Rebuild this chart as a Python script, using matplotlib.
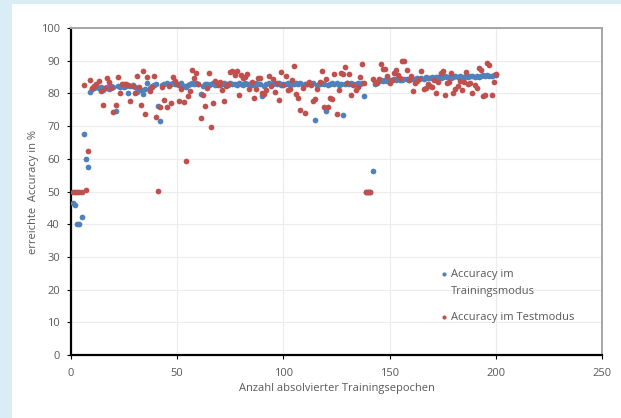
import matplotlib
matplotlib.use('Agg')

import matplotlib.pyplot as plt
from matplotlib.patches import Rectangle
import numpy as np

# accuracy per training epoch
epochs = np.arange(1, 201)

train_acc = [
    46.5, 46.0, 40.0, 40.2, 42.3, 67.6, 59.8, 57.4, 80.5, 81.2,
    81.6, 82.0, 81.5, 81.9, 81.0, 81.8, 82.1, 81.4, 82.3, 81.9,
    74.6, 82.2, 82.0, 82.4, 82.1, 82.3, 80.1, 82.2, 82.5, 82.0,
    80.3, 81.8, 80.9, 79.7, 81.2, 83.1, 81.6, 82.4, 82.6, 82.8,
    76.1, 71.5, 82.5, 83.0, 83.2, 82.7, 82.9, 83.1, 82.8, 83.0,
    82.6, 83.1, 82.4, 81.9, 82.5, 83.0, 83.2, 82.9, 83.1, 82.8,
    79.8, 82.4, 82.9, 83.0, 82.6, 82.9, 83.1, 82.7, 83.0, 82.5,
    82.8, 83.2, 82.9, 82.6, 83.1, 82.8, 83.0, 82.7, 83.2, 82.9,
    82.6, 83.1, 82.8, 83.0, 82.5, 82.9, 83.2, 82.8, 83.0, 79.2,
    82.4, 82.9, 83.1, 82.7, 83.0, 83.3, 82.9, 83.1, 82.6, 83.0,
    82.8, 83.2, 82.7, 83.0, 82.9, 83.3, 82.8, 83.1, 82.6, 83.0,
    82.8, 83.2, 82.9, 83.1, 71.8, 82.7, 83.0, 83.2, 82.8, 74.5,
    82.6, 83.0, 83.2, 82.9, 83.1, 82.7, 83.0, 73.4, 82.8, 83.1,
    82.9, 83.2, 82.8, 83.0, 83.1, 82.9, 83.2, 79.3, 50.0, 50.0,
    50.0, 56.3, 82.8, 83.4, 83.8, 84.0, 83.7, 84.1, 83.9, 84.2,
    84.0, 84.3, 84.1, 84.4, 84.2, 84.0, 84.3, 84.5, 84.2, 84.6,
    84.3, 84.5, 84.8, 84.4, 84.7, 84.5, 84.9, 84.6, 84.8, 85.0,
    84.7, 84.9, 85.1, 84.8, 85.0, 85.2, 84.9, 85.1, 84.8, 85.0,
    85.3, 85.0, 85.2, 84.9, 85.1, 85.3, 85.0, 85.2, 85.4, 85.1,
    85.3, 85.0, 85.2, 85.5, 85.3, 85.6, 85.4, 85.2, 85.5, 85.6,
]

test_acc = [
    50.0, 50.0, 49.8, 50.0, 50.0, 82.6, 50.5, 62.4, 84.0, 81.8,
    82.4, 82.8, 83.8, 80.6, 76.4, 81.6, 84.6, 83.4, 81.6, 74.4,
    76.3, 85.0, 80.0, 82.8, 83.0, 82.8, 82.5, 77.6, 82.3, 80.2,
    85.4, 82.0, 76.3, 86.8, 73.6, 85.0, 80.6, 82.0, 85.4, 72.9,
    50.2, 75.8, 81.9, 78.0, 75.9, 82.4, 77.2, 84.9, 83.8, 82.9,
    77.7, 81.3, 77.4, 59.2, 79.2, 80.6, 87.2, 84.7, 86.2, 83.0,
    72.4, 79.5, 76.0, 81.8, 86.2, 69.6, 77.1, 83.8, 82.5, 83.5,
    81.1, 77.7, 82.4, 83.0, 86.5, 86.7, 85.7, 86.9, 79.6, 85.6,
    84.8, 84.9, 85.8, 81.4, 83.4, 78.6, 81.2, 84.6, 84.6, 80.0,
    79.7, 80.9, 85.3, 82.2, 84.3, 80.3, 83.3, 78.0, 86.6, 82.5,
    85.4, 81.0, 81.4, 84.1, 88.4, 79.8, 78.7, 74.9, 81.8, 73.9,
    83.0, 83.4, 82.7, 77.7, 78.4, 81.2, 83.6, 86.8, 75.7, 84.5,
    75.7, 78.5, 78.2, 85.8, 73.7, 81.0, 86.3, 85.8, 88.2, 83.1,
    85.9, 79.5, 82.6, 81.0, 82.0, 85.1, 88.9, 83.1, 50.0, 50.0,
    50.0, 84.4, 83.6, 83.1, 84.5, 89.1, 87.6, 87.6, 85.4, 83.1,
    84.1, 86.3, 87.1, 85.7, 84.8, 90.0, 89.8, 87.1, 84.2, 85.4,
    80.6, 83.1, 83.8, 84.5, 86.8, 81.2, 81.8, 83.0, 82.3, 82.0,
    84.2, 80.2, 83.5, 86.3, 86.8, 79.4, 83.1, 83.6, 86.1, 80.0,
    81.2, 82.3, 83.8, 81.0, 83.5, 86.4, 82.9, 83.1, 80.0, 82.7,
    81.6, 87.9, 87.1, 79.2, 79.6, 89.4, 88.8, 79.5, 83.6, 85.8,
]

series_colors = ['#4f81bd', '#c0504d']
legend_lines = [['Accuracy im', 'Trainingsmodus'], ['Accuracy im Testmodus']]

plt.rcParams['font.family'] = ['Open Sans', 'DejaVu Sans']
text_col = '#595959'
fs = 8

fig = plt.figure(figsize=(6.21, 4.18), dpi=100)
fig.patch.set_facecolor('#d9edf7')
# white chart area, slide background shows on left and top
fig.patches.append(Rectangle((12 / 621, 0), 1, 1 - 4 / 418, transform=fig.transFigure,
                             facecolor='white', edgecolor='none', zorder=-10))

ax = fig.add_axes([71 / 621, 1 - 355 / 418, 531 / 621, 327 / 418])
ax.set_zorder(2)
ax.set_facecolor('white')

ax.scatter(epochs, train_acc, s=17, color=series_colors[0], zorder=3, linewidths=0)
ax.scatter(epochs, test_acc, s=17, color=series_colors[1], zorder=4, linewidths=0)

ax.set_xlim(0, 250)
ax.set_ylim(0, 100)
ax.set_xticks(np.arange(0, 251, 50))
ax.set_yticks(np.arange(0, 101, 10))
ax.grid(True, color='#ececec', linewidth=0.8, zorder=0)
ax.set_axisbelow(True)

for side in ['left', 'bottom']:
    ax.spines[side].set_color('black')
    ax.spines[side].set_linewidth(1.6)
for side in ['top', 'right']:
    ax.spines[side].set_color('#a6a6a6')
    ax.spines[side].set_linewidth(1.4)

ax.tick_params(axis='both', colors='black', labelcolor=text_col, labelsize=fs,
               length=3, width=0.8)
ax.tick_params(axis='x', pad=6)
ax.tick_params(axis='y', pad=5)

ax.set_xlabel('Anzahl absolvierter Trainingsepochen', fontsize=fs, color=text_col,
              labelpad=3)
ax.set_ylabel('erreichte  Accuracy in %', fontsize=fs, color=text_col, labelpad=1)

# legend drawn like the Excel one: marker next to the first line of each entry
mx, tx = 0.7024, 0.7156
line_y = [[0.2477, 0.1927], [0.1162]]
for col, lines, ys in zip(series_colors, legend_lines, line_y):
    ax.scatter([mx], [ys[0]], s=9, color=col, transform=ax.transAxes,
               clip_on=False, linewidths=0, zorder=5)
    for txt, yy in zip(lines, ys):
        ax.text(tx, yy, txt, transform=ax.transAxes, fontsize=fs, color=text_col,
                va='center', ha='left')

fig.savefig('out.png', dpi=100, facecolor=fig.get_facecolor())
